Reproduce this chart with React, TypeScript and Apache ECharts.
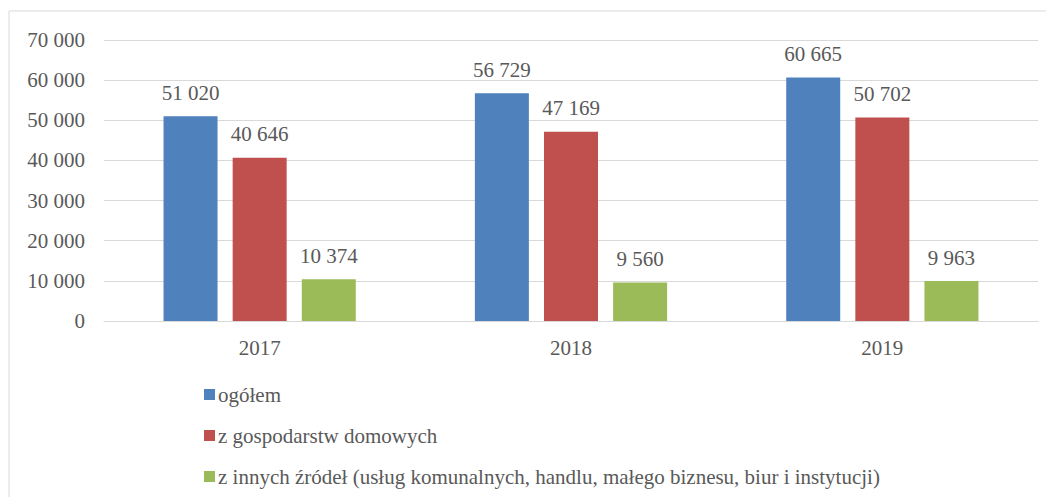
import React, { useEffect, useRef } from "react";
import * as echarts from "echarts";

const categories = ["2017", "2018", "2019"];
const seriesNames = [
  "ogółem",
  "z gospodarstw domowych",
  "z innych źródeł (usług komunalnych, handlu, małego biznesu, biur i instytucji)",
];
const ogolem = [51020, 56729, 60665];
const gospodarstwa = [40646, 47169, 50702];
const inne = [10374, 9560, 9963];
const colors = ["#4f81bd", "#c0504d", "#9bbb59"];

const fmt = (v: number) => String(v).replace(/\B(?=(\d{3})+(?!\d))/g, " ");
const FONT = "'Liberation Serif', 'Times New Roman', serif";
const TXT = "#595959";
const FS = 21;

export default function App() {
  const ref = useRef<HTMLDivElement>(null);
  useEffect(() => {
    if (!ref.current) return;
    const chart = echarts.init(ref.current, undefined, { renderer: "svg" });
    const data = [ogolem, gospodarstwa, inne];
    chart.setOption({
      animation: false,
      textStyle: { fontFamily: FONT },
      graphic: [
        {
          type: "rect",
          shape: { x: 1, y: 3, width: 2000, height: 2000 },
          style: { fill: "none", stroke: "#d9d9d9", lineWidth: 1 },
          silent: true,
        },
      ],
      grid: { left: 96, right: 16, top: 32, bottom: 176 },
      legend: {
        orient: "vertical",
        left: 191,
        top: 371,
        itemWidth: 11,
        itemHeight: 11,
        itemGap: 20,
        icon: "rect",
        data: seriesNames,
        textStyle: { fontFamily: FONT, fontSize: FS, color: TXT, padding: [0, 0, 0, -2] },
      },
      xAxis: {
        type: "category",
        data: categories,
        axisLine: { lineStyle: { color: "#d9d9d9", width: 1 } },
        axisTick: { show: false },
        axisLabel: { fontFamily: FONT, fontSize: FS, color: TXT, margin: 16 },
      },
      yAxis: {
        type: "value",
        min: 0,
        max: 70000,
        interval: 10000,
        axisLabel: { fontFamily: FONT, fontSize: FS, color: TXT, margin: 19, formatter: (v: number) => fmt(v) },
        splitLine: { lineStyle: { color: "#d9d9d9", width: 1 } },
        axisLine: { show: false },
        axisTick: { show: false },
      },
      series: seriesNames.map((name, i) => ({
        name,
        type: "bar",
        data: data[i],
        barWidth: 54,
        barGap: "28%",
        itemStyle: { color: colors[i] },
        label: {
          show: true,
          position: "top",
          distance: 13,
          fontFamily: FONT,
          fontSize: FS,
          color: TXT,
          formatter: (p: any) => fmt(p.value),
        },
      })),
    });
    return () => chart.dispose();
  }, []);
  return <div ref={ref} style={{ width: 1046, height: 489 }} />;
}
